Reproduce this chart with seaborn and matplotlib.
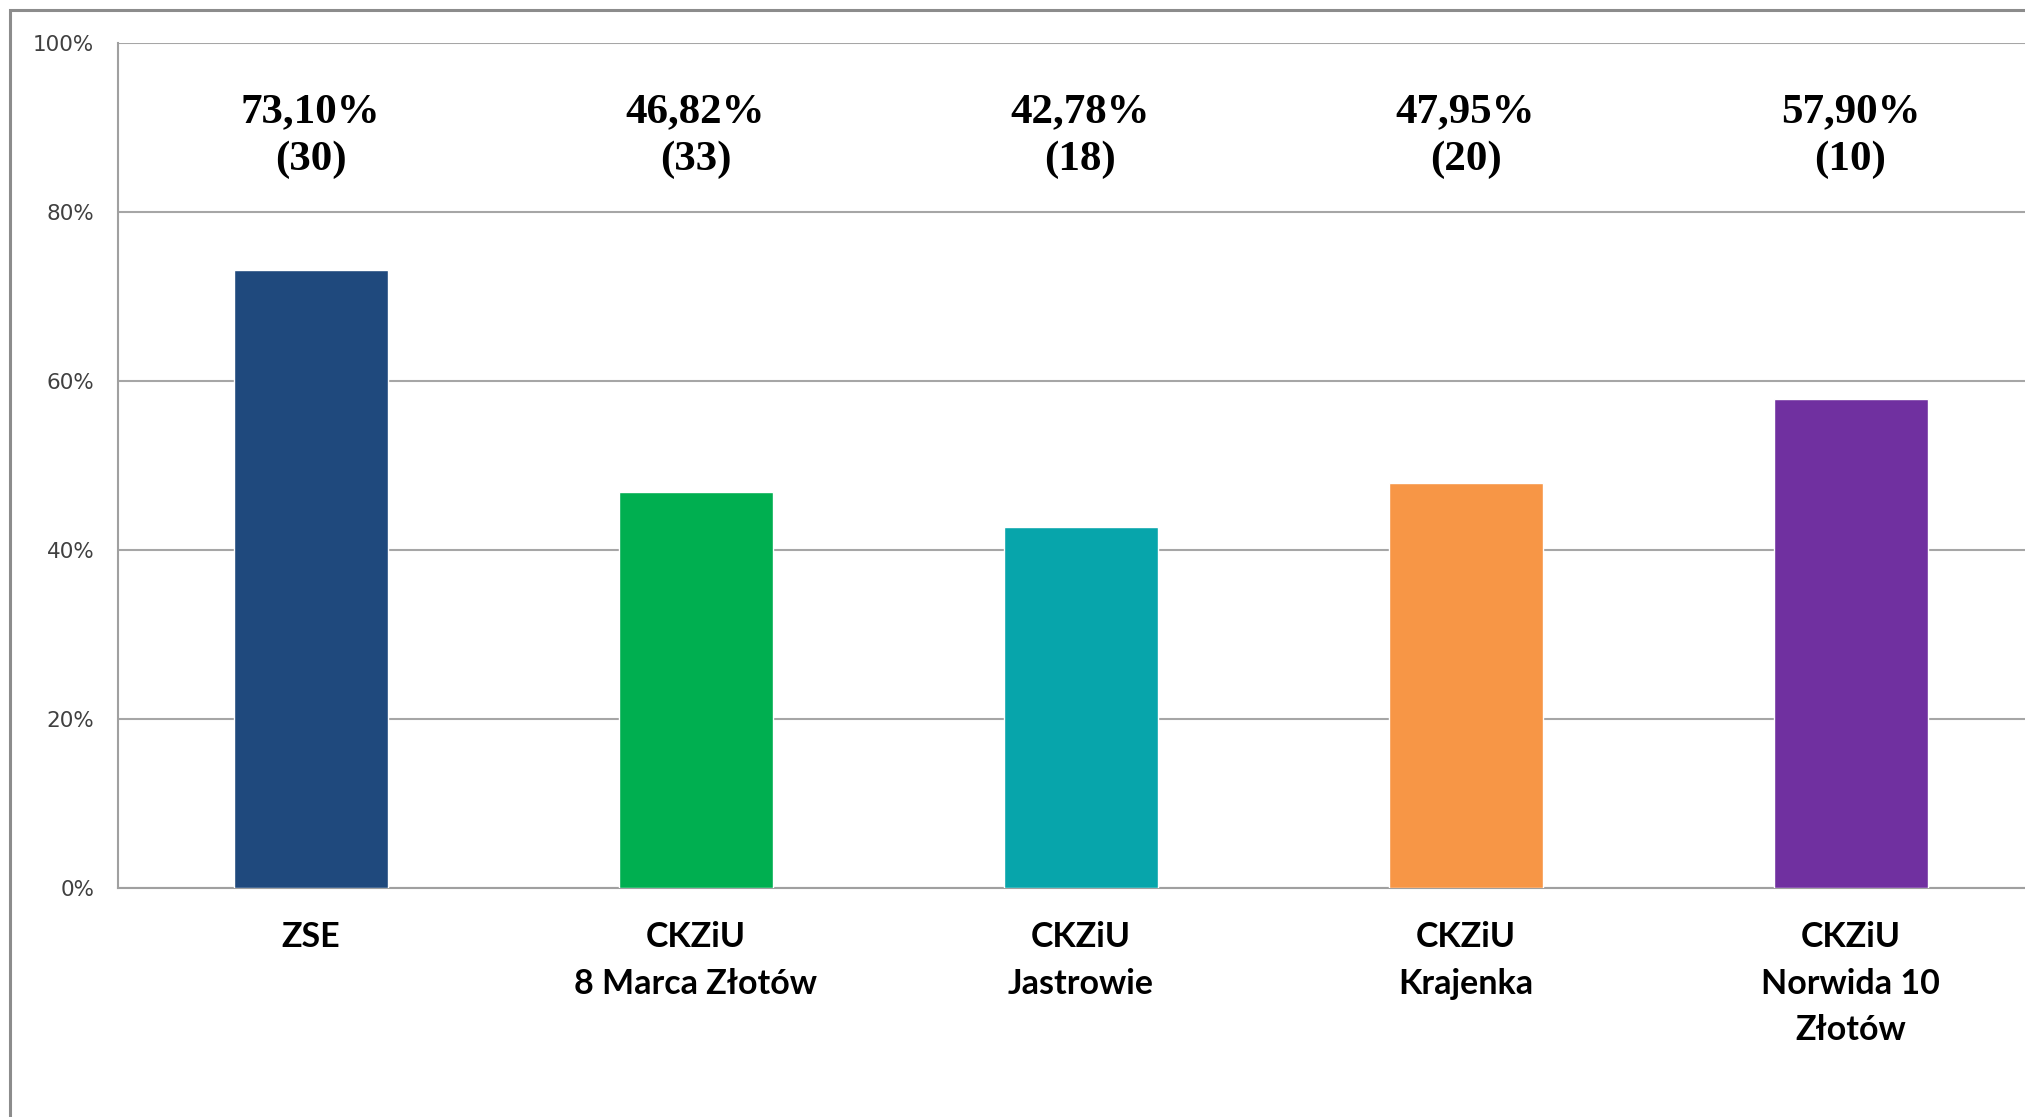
#====================================================================
# Wyniki szkol - wykres slupkowy (procent + liczba osob)
#====================================================================

import matplotlib
matplotlib.use("Agg")
import matplotlib.pyplot as plt
import matplotlib.patches as patches
import pandas as pd
import seaborn as sns

#====================================================================
# DANE
#====================================================================

schools = [
    "ZSE",
    "CKZiU\n8 Marca Złotów",
    "CKZiU\nJastrowie",
    "CKZiU\nKrajenka",
    "CKZiU\nNorwida 10\nZłotów",
]
percent = [73.10, 46.82, 42.78, 47.95, 57.90]
counts = [30, 33, 18, 20, 10]
bar_colors = ["#1F497D", "#00AF50", "#07A5AB", "#F79646", "#7030A0"]
y_ticks = [0, 20, 40, 60, 80, 100]

df = pd.DataFrame({"school": schools, "percent": percent})

#====================================================================
# WYKRES
#====================================================================

sns.set_style("white")
plt.rcParams["font.family"] = ["DejaVu Sans"]

fig = plt.figure(figsize=(20.25, 11.17), dpi=100)
ax = fig.add_axes([118 / 2025, 229 / 1117, 1925 / 2025, 845 / 1117])

sns.barplot(
    data=df,
    x="school",
    y="percent",
    hue="school",
    palette=bar_colors,
    legend=False,
    width=0.4,
    saturation=1,
    ax=ax,
    zorder=3,
)

ax.set_ylim(0, 100)
ax.set_xlim(-0.5, len(schools) - 0.5)
ax.set_yticks(y_ticks)
ax.set_yticklabels([f"{t}%" for t in y_ticks])
ax.set_xlabel("")
ax.set_ylabel("")

# siatka pozioma
ax.yaxis.grid(True, color="#a6a6a6", linewidth=1.5, zorder=0)
ax.xaxis.grid(False)

for side in ["top", "right"]:
    ax.spines[side].set_visible(False)
for side in ["left", "bottom"]:
    ax.spines[side].set_color("#a0a0a0")
    ax.spines[side].set_linewidth(1.5)

# znaczniki osi x miedzy kategoriami
ax.set_xticks([i - 0.5 for i in range(len(schools) + 1)], minor=True)
ax.tick_params(axis="x", which="minor", length=9, width=1.5, color="#a0a0a0")
ax.tick_params(axis="x", which="major", length=0, pad=24)
ax.tick_params(axis="y", length=6, width=1.5, color="#a0a0a0", pad=11,
               labelsize=15.5, labelcolor="#404040")

for t in ax.get_xticklabels():
    t.set_fontfamily(["Lato", "DejaVu Sans"])
    t.set_fontweight("bold")
    t.set_fontsize(24.5)
    t.set_linespacing(1.55)
    t.set_verticalalignment("top")
    t.set_color("black")

# etykiety wartosci
for i, (p, c) in enumerate(zip(percent, counts)):
    label = f"{p:.2f}".replace(".", ",") + f"%\n({c})"
    ax.text(
        i, 89.0, label,
        ha="center", va="center",
        fontsize=31, fontweight="bold", color="black",
        family=["Liberation Serif", "DejaVu Serif"],
        linespacing=1.3,
        zorder=4,
    )

# ramka wykresu (przycieta z prawej i od dolu)
frame = patches.Rectangle(
    (10 / 2025, -0.1), 1.2, 1.1 - 10 / 1117,
    transform=fig.transFigure, fill=False,
    edgecolor="#8c8c8c", linewidth=2.2,
)
fig.add_artist(frame)

fig.savefig("out.png", dpi=100, facecolor="white")
